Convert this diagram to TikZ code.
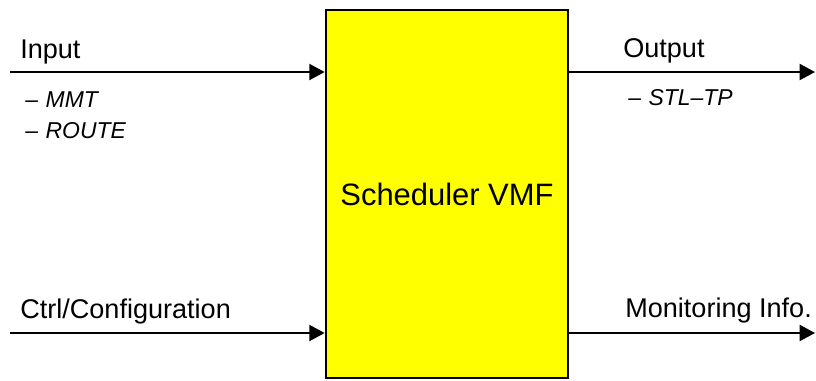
\documentclass[tikz,border=0pt]{standalone}
\usepackage{fontspec}
\setmainfont{Liberation Sans}
\usetikzlibrary{arrows.meta}
\definecolor{boxyellow}{RGB}{255,255,0}
\begin{document}
\begin{tikzpicture}[x=0.75pt,y=-0.75pt,
  lbl/.style={anchor=base west,inner sep=0pt,font=\fontsize{20.3pt}{22pt}\selectfont},
  sub/.style={anchor=base west,inner sep=0pt,font=\fontsize{17.2pt}{19pt}\selectfont\itshape},
  flow/.style={line width=1.5pt,-{Triangle[length=11.5pt,width=12pt]}},
  block/.style={draw=black,fill=boxyellow,line width=2pt,minimum width=181.5pt,minimum height=276pt,inner sep=0pt,font=\fontsize{23.2pt}{26pt}\selectfont}]
\useasboundingbox (0,0) rectangle (816,380);
\node[block] (box) at (447,194) {Scheduler VMF};
\coordinate (in1) at (10,72);
\coordinate (in2) at (10,333);
\coordinate (out1) at (815,72);
\coordinate (out2) at (815,333);
\draw[flow] (in1) -- (in1 -| box.west);
\draw[flow] (in2) -- (in2 -| box.west);
\draw[flow] (out1 -| box.east) -- (out1);
\draw[flow] (out2 -| box.east) -- (out2);
\node[lbl] (tin) at (20,58) {Input};
\node[sub] (tmmt) at (25,107) {–\,\,MMT};
\node[sub] (troute) at (25,138) {–\,\,ROUTE};
\node[lbl] (tctrl) at (20,318) {Ctrl/Configuration};
\node[lbl] (tout) at (623,57) {Output};
\node[sub] (tstl) at (628,105) {–\,\,STL–TP};
\node[lbl] (tmon) at (625,317) {Monitoring Info.};
\end{tikzpicture}
\end{document}
